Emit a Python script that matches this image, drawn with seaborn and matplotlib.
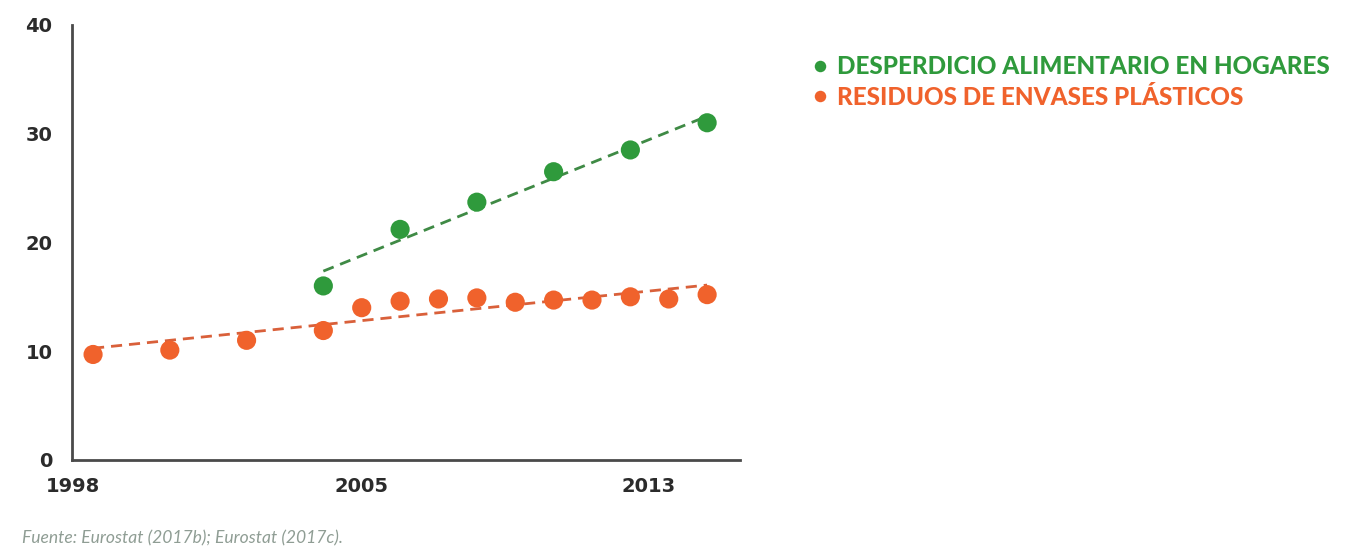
import numpy as np
import pandas as pd
import matplotlib
matplotlib.use("Agg")
import matplotlib.pyplot as plt
import matplotlib.transforms as mtransforms
import seaborn as sns

# Household food waste (kg per capita) — Eurostat
food_years = [2004, 2006, 2008, 2010, 2012, 2014]
food_values = [16.0, 21.2, 23.7, 26.5, 28.5, 31.0]

# Plastic packaging waste (kg per capita) — Eurostat
plastic_years = [1998, 2000, 2002, 2004, 2005, 2006, 2007, 2008, 2009,
                 2010, 2011, 2012, 2013, 2014]
plastic_values = [9.7, 10.1, 11.0, 11.9, 14.0, 14.6, 14.8, 14.9, 14.5,
                  14.7, 14.7, 15.0, 14.8, 15.2]

series_names = ["DESPERDICIO ALIMENTARIO EN HOGARES",
                "RESIDUOS DE ENVASES PLÁSTICOS"]
point_colors = ["#2f9a3c", "#f0622c"]
trend_colors = ["#3f8a45", "#d9603a"]

x_ticks = [1998, 2005, 2013]
y_ticks = [0, 10, 20, 30, 40]
source_note = "Fuente: Eurostat (2017b); Eurostat (2017c)."

df = pd.concat([
    pd.DataFrame({"year": food_years, "value": food_values, "serie": series_names[0]}),
    pd.DataFrame({"year": plastic_years, "value": plastic_values, "serie": series_names[1]}),
], ignore_index=True)

sns.set_theme(style="white")
plt.rcParams["font.family"] = ["Lato", "DejaVu Sans"]

fig = plt.figure(figsize=(13.45, 5.6), dpi=100)
ax = fig.add_axes([0.0535, 0.1786, 0.4965, 0.777])

# dashed linear trend for each series
for (years, vals), tc in zip([(food_years, food_values),
                              (plastic_years, plastic_values)], trend_colors):
    sns.regplot(x=years, y=vals, ax=ax, scatter=False, ci=None, truncate=True,
                line_kws=dict(color=tc, lw=2, ls=(0, (4, 2.5))))

sns.scatterplot(data=df, x="year", y="value", hue="serie",
                palette=dict(zip(series_names, point_colors)),
                s=190, edgecolor="none", ax=ax, zorder=3)

ax.set_xlim(1997.45, 2014.85)
ax.set_ylim(0, 40)
ax.set_xticks(x_ticks)
ax.set_xticklabels([str(t) for t in x_ticks])
ax.set_yticks(y_ticks)
ax.set_xlabel("")
ax.set_ylabel("")
ax.tick_params(axis="both", length=0, colors="#2b2b2b")
ax.tick_params(axis="y", pad=14)
ax.tick_params(axis="x", pad=12)
for lab in ax.get_xticklabels() + ax.get_yticklabels():
    lab.set_fontfamily("DejaVu Sans")
    lab.set_fontweight("bold")
    lab.set_fontsize(14)

# the outer year labels sit slightly left of their ticks
shift = mtransforms.ScaledTranslation(-20 / 100, 0, fig.dpi_scale_trans)
xlabs = ax.get_xticklabels()
for lab in (xlabs[0], xlabs[-1]):
    lab.set_transform(lab.get_transform() + shift)

for side in ["top", "right"]:
    ax.spines[side].set_visible(False)
for side in ["left", "bottom"]:
    ax.spines[side].set_color("#4a4a4a")
    ax.spines[side].set_linewidth(2)

handles, labels = ax.get_legend_handles_labels()
ax.legend(handles, labels, loc="upper left", bbox_to_anchor=(0.575, 0.940),
          bbox_transform=fig.transFigure, frameon=False,
          labelcolor="markerfacecolor", markerscale=0.6, handletextpad=-0.3,
          labelspacing=0.3, prop=dict(family="Lato", weight="black", size=17.5))

fig.text(0.016, 0.039, source_note, color="#8f9d94", fontsize=12.6,
         style="italic", fontweight="normal", ha="left", va="center")

fig.savefig("out.png", dpi=100, facecolor="white")
